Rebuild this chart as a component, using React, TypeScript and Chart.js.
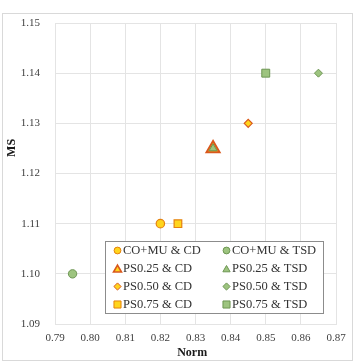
import React, { useEffect, useRef } from "react";
import { Chart, registerables } from "chart.js";
import { drawPoint } from "chart.js/helpers";

Chart.register(...registerables);

// Series labels, in legend order (row by row, CD column then TSD column)
const seriesNames = [
  "CO+MU & CD",
  "CO+MU & TSD",
  "PS0.25 & CD",
  "PS0.25 & TSD",
  "PS0.50 & CD",
  "PS0.50 & TSD",
  "PS0.75 & CD",
  "PS0.75 & TSD",
];
// Norm (x) and MS (y) value of each series
const normValues = [0.82, 0.795, 0.835, 0.835, 0.845, 0.865, 0.825, 0.85];
const msValues = [1.11, 1.1, 1.125, 1.125, 1.13, 1.14, 1.11, 1.14];

const xMin = 0.79;
const xMax = 0.87;
const yMin = 1.09;
const yMax = 1.15;
const tickStep = 0.01;

const xTitle = "Norm";
const yTitle = "MS";

// Marker styling
const CD_FILL = "#FFD51C";
const CD_LINE = "#E5820E";
const CD_LINE_TRI = "#D9581C";
const TSD_FILL = "#9DC47F";
const TSD_LINE = "#6D9653";

type MarkerStyle = {
  shape: string;
  radius: number;
  legendRadius: number;
  fill: string;
  line: string;
  lineWidth: number;
};

const markerStyles: MarkerStyle[] = [
  { shape: "circle", radius: 4.2, legendRadius: 3.4, fill: CD_FILL, line: CD_LINE, lineWidth: 1.2 },
  { shape: "circle", radius: 4.2, legendRadius: 3.4, fill: TSD_FILL, line: TSD_LINE, lineWidth: 1 },
  { shape: "triangle", radius: 7.5, legendRadius: 4.6, fill: CD_FILL, line: CD_LINE_TRI, lineWidth: 2 },
  { shape: "triangle", radius: 4.6, legendRadius: 4.2, fill: TSD_FILL, line: TSD_LINE, lineWidth: 1 },
  { shape: "rectRot", radius: 4, legendRadius: 3.6, fill: CD_FILL, line: CD_LINE_TRI, lineWidth: 1.2 },
  { shape: "rectRot", radius: 4, legendRadius: 3.6, fill: TSD_FILL, line: TSD_LINE, lineWidth: 1 },
  { shape: "rect", radius: 5.4, legendRadius: 5, fill: CD_FILL, line: CD_LINE, lineWidth: 1.2 },
  { shape: "rect", radius: 5.6, legendRadius: 5, fill: TSD_FILL, line: TSD_LINE, lineWidth: 1 },
];

const TEXT_FONT = "'Liberation Serif', 'Times New Roman', serif";

// Frame around the whole figure and the axis titles
const framePlugin = {
  id: "frame",
  beforeDraw(chart: any) {
    const ctx = chart.ctx;
    ctx.save();
    ctx.fillStyle = "#ffffff";
    ctx.fillRect(0, 0, chart.width, chart.height);
    ctx.strokeStyle = "#d9d9d9";
    ctx.lineWidth = 1;
    ctx.strokeRect(2.5, 13.5, 350, 347);
    ctx.restore();
  },
  afterDraw(chart: any) {
    const ctx = chart.ctx;
    const area = chart.chartArea;
    ctx.save();
    ctx.fillStyle = "#1a1a1a";
    ctx.font = `bold 12px ${TEXT_FONT}`;
    ctx.textAlign = "center";
    ctx.textBaseline = "middle";
    ctx.fillText(xTitle, area.left + (area.right - area.left) * 0.488, 353);
    ctx.translate(12, area.top + (area.bottom - area.top) * 0.415);
    ctx.rotate(-Math.PI / 2);
    ctx.fillText(yTitle, 0, 0);
    ctx.restore();
  },
};

// Boxed two-column legend inside the plot area
const boxLegendPlugin = {
  id: "boxLegend",
  afterDatasetsDraw(chart: any) {
    const ctx = chart.ctx;
    const left = 105;
    const top = 241;
    const width = 218;
    const rowH = 18;
    const rows = Math.ceil(seriesNames.length / 2);
    ctx.save();
    ctx.fillStyle = "#ffffff";
    ctx.fillRect(left, top, width, rows * rowH);
    ctx.strokeStyle = "#8c8c8c";
    ctx.lineWidth = 1;
    ctx.strokeRect(left + 0.5, top + 0.5, width, rows * rowH);
    ctx.font = `12.5px ${TEXT_FONT}`;
    ctx.textBaseline = "middle";
    ctx.textAlign = "left";
    const colX = [117.5, 226.5];
    seriesNames.forEach((name, i) => {
      const col = i % 2;
      const row = Math.floor(i / 2);
      const cy = top + rowH * row + rowH / 2 + 0.5;
      const st = markerStyles[i];
      ctx.fillStyle = st.fill;
      ctx.strokeStyle = st.line;
      ctx.lineWidth = st.shape === "triangle" && col === 0 ? 1.6 : 1;
      const my = st.shape === "triangle" ? cy + 1.2 : cy;
      drawPoint(ctx, { pointStyle: st.shape, radius: st.legendRadius, rotation: 0, borderWidth: ctx.lineWidth }, colX[col], my);
      ctx.fillStyle = "#333333";
      ctx.fillText(name, colX[col] + 5.5, cy);
    });
    ctx.restore();
  },
};

export default function App() {
  const canvasRef = useRef<HTMLCanvasElement | null>(null);

  useEffect(() => {
    const canvas = canvasRef.current;
    if (!canvas) return;

    const datasets = seriesNames.map((name, i) => {
      const st = markerStyles[i];
      return {
        label: name,
        data: [{ x: normValues[i], y: msValues[i] }],
        pointStyle: st.shape,
        pointRadius: st.radius,
        pointBackgroundColor: st.fill,
        pointBorderColor: st.line,
        pointBorderWidth: st.lineWidth,
        showLine: false,
        // larger triangle below the smaller one
        order: st.shape === "triangle" ? (i === 2 ? 10 : 0) : 5,
      };
    });

    const tickFont = { family: TEXT_FONT, size: 11 };

    const chart = new Chart(canvas, {
      type: "scatter",
      data: { datasets },
      plugins: [framePlugin, boxLegendPlugin],
      options: {
        responsive: false,
        animation: false,
        layout: { padding: { top: 23, right: 20, left: 0, bottom: 0 } },
        plugins: {
          legend: { display: false },
          tooltip: { enabled: false },
        },
        scales: {
          x: {
            type: "linear",
            min: xMin,
            max: xMax,
            grid: { color: "#e4e4e4", drawTicks: false },
            border: { color: "#e4e4e4" },
            ticks: {
              stepSize: tickStep,
              padding: 8,
              color: "#404040",
              font: tickFont,
              maxRotation: 0,
              callback: (v: any) => Number(v).toFixed(2),
            },
            afterFit: (scale: any) => {
              scale.height = 40;
            },
          },
          y: {
            type: "linear",
            min: yMin,
            max: yMax,
            grid: { color: "#e4e4e4", drawTicks: false },
            border: { color: "#e4e4e4" },
            ticks: {
              stepSize: tickStep,
              padding: 15,
              color: "#404040",
              font: tickFont,
              callback: (v: any) => Number(v).toFixed(2),
            },
            afterFit: (scale: any) => {
              scale.width = 55;
            },
          },
        },
      },
    } as any);

    return () => chart.destroy();
  }, []);

  return (
    <div style={{ position: "absolute", left: 0, top: 0, width: 356, height: 364 }}>
      <canvas ref={canvasRef} width={356} height={364} />
    </div>
  );
}
